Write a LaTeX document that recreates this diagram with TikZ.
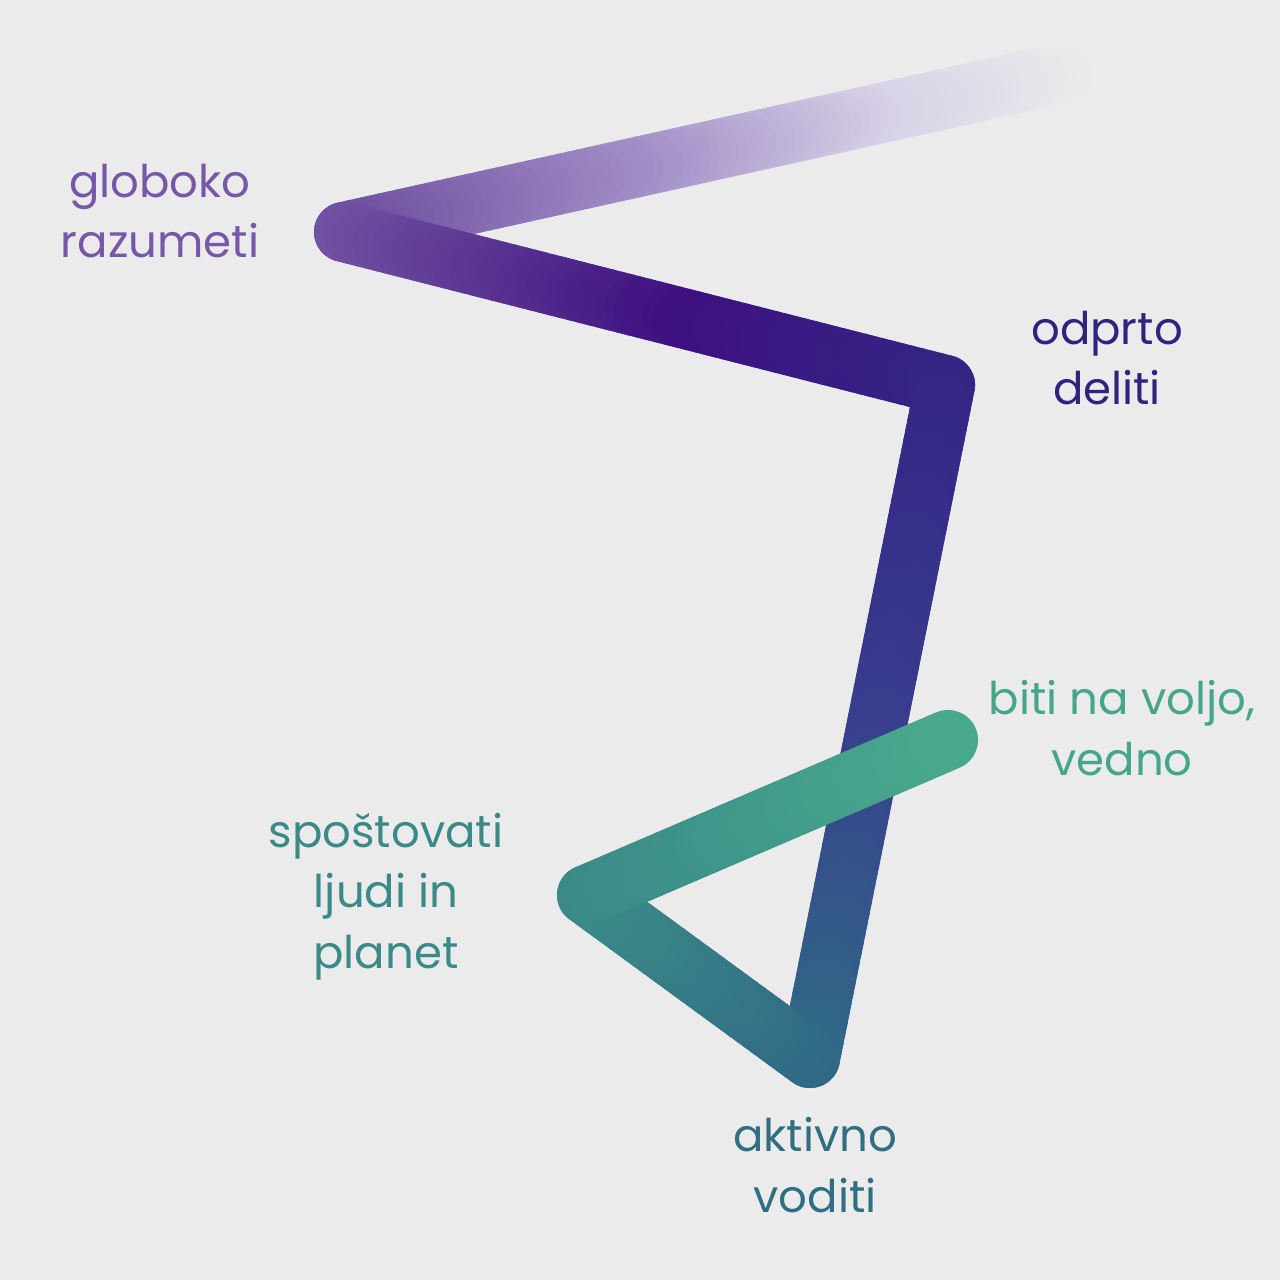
\documentclass[tikz,border=0pt]{standalone}
\usepackage{fontspec}
\setmainfont{Poppins}
\usetikzlibrary{calc}
\definecolor{bgc}{RGB}{235,235,235}
\definecolor{ca}{RGB}{216,210,231}
\definecolor{cb}{RGB}{162,143,199}
\definecolor{c1}{RGB}{113,82,162}
\definecolor{c2a}{RGB}{62,16,128}
\definecolor{c2}{RGB}{52,36,132}
\definecolor{c3m}{RGB}{56,60,142}
\definecolor{c3}{RGB}{48,104,134}
\definecolor{c4}{RGB}{58,138,136}
\definecolor{c5}{RGB}{72,168,140}
\definecolor{tg}{RGB}{120,86,168}
\definecolor{tod}{RGB}{46,36,125}
\definecolor{tbi}{RGB}{70,166,140}
\definecolor{tsp}{RGB}{58,138,136}
\definecolor{tak}{RGB}{48,110,130}
\newcommand{\gradseg}[5]{%
  \foreach \i in {1,...,#5}{%
    \pgfmathsetmacro{\ta}{(\i-1)/#5}%
    \pgfmathsetmacro{\tb}{\i/#5}%
    \pgfmathsetmacro{\pc}{100*(\i-0.5)/#5}%
    \draw[seg, draw=#4!\pc!#3] ($(#1)!\ta!(#2)$) -- ($(#1)!\tb!(#2)$);
  }%
}
\begin{document}
\begin{tikzpicture}[x=0.01cm,y=-0.01cm,
  seg/.style={line width=0.6cm, line cap=round},
  lbl/.style={font=\fontsize{12.8}{17.1}\selectfont, align=center, anchor=base}]
\fill[bgc] (0,0) rectangle (1280,1280);
\useasboundingbox (0,0) rectangle (1280,1280);
\coordinate (P0) at (1062,73);
\coordinate (P1) at (344,232);
\coordinate (P2) at (945,385);
\coordinate (P3) at (810,1058);
\coordinate (P4) at (587,895);
\coordinate (P5) at (948,740);
\coordinate (Q1) at ($(P0)!0.27!(P1)$);
\coordinate (Q2) at ($(P0)!0.61!(P1)$);
\coordinate (Q3) at ($(P1)!0.58!(P2)$);
\coordinate (Q4) at ($(P2)!0.5!(P3)$);
\gradseg{P0}{Q1}{bgc}{ca}{22}
\gradseg{Q1}{Q2}{ca}{cb}{26}
\gradseg{Q2}{P1}{cb}{c1}{28}
\gradseg{P1}{Q3}{c1}{c2a}{36}
\gradseg{Q3}{P2}{c2a}{c2}{26}
\gradseg{P2}{Q4}{c2}{c3m}{34}
\gradseg{Q4}{P3}{c3m}{c3}{34}
\gradseg{P3}{P4}{c3}{c4}{28}
\gradseg{P4}{P5}{c4}{c5}{40}
\node[lbl, text=tg] (globoko) at (160,258) {globoko\\razumeti};
\node[lbl, text=tod] (odprto) at (1107,405) {odprto\\deliti};
\node[lbl, text=tbi] (biti) at (1122,775) {biti na voljo,\\vedno};
\node[lbl, text=tsp] (spostovati) at (386,968) {spoštovati\\ljudi in\\planet};
\node[lbl, text=tak] (aktivno) at (815,1212) {aktivno\\voditi};
\end{tikzpicture}
\end{document}
